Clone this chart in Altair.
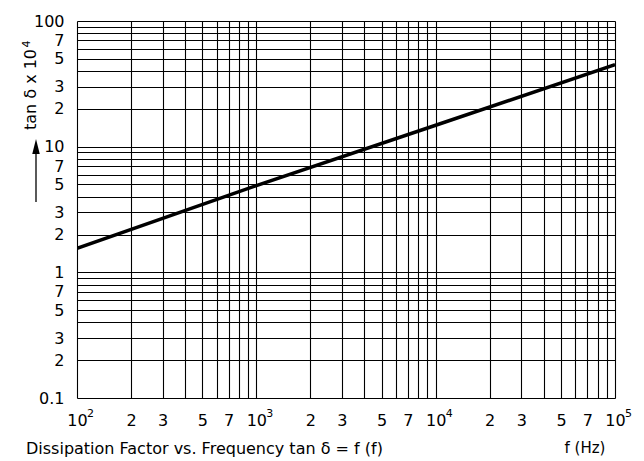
import altair as alt
import pandas as pd

# ---- data ----
freq = [1e2, 1e3, 1e4, 1e5]
tan_delta = [1.55, 4.9, 14.8, 45.0]

x_tick_values = [round(a * 10 ** e) for e in [2, 3, 4] for a in range(1, 10)] + [100000]
x_tick_labels = {100: "10", 200: "2", 300: "3", 500: "5", 700: "7",
                 1000: "10", 2000: "2", 3000: "3", 5000: "5", 7000: "7",
                 10000: "10", 20000: "2", 30000: "3", 50000: "5", 70000: "7",
                 100000: "10"}
decades = [100, 1000, 10000, 100000]
decade_exponents = ["2", "3", "4", "5"]

y_tick_values = [round(a * 10 ** e, 6) for e in [-1, 0, 1] for a in range(1, 10)] + [100]
y_tick_labels = {0.1: "0.1", 0.2: "2", 0.3: "3", 0.5: "5", 0.7: "7",
                 1: "1", 2: "2", 3: "3", 5: "5", 7: "7",
                 10: "10", 20: "2", 30: "3", 50: "5", 70: "7",
                 100: "100"}

y_title = "tan δ x 10"
y_title_exp = "4"
caption = "Dissipation Factor vs. Frequency tan δ = f (f)"
x_unit = "f (Hz)"

FONT = "DejaVu Sans"


def label_expr(mapping):
    parts = []
    for v, lab in mapping.items():
        parts.append(f"abs(datum.value - {v}) < {v} * 1e-6 ? '{lab}'")
    return " : ".join(parts) + " : ''"


df = pd.DataFrame({"f": freq, "tan": tan_delta})

W, H = 538, 377

xscale = alt.Scale(type="log", domain=[100, 100000], nice=False)

line = alt.Chart(df).mark_line(color="black", strokeWidth=3.5, clip=True).encode(
    x=alt.X("f:Q", scale=xscale,
            axis=alt.Axis(values=x_tick_values, labelExpr=label_expr(x_tick_labels),
                          title=None, grid=True, gridColor="black", gridWidth=1.1,
                          gridOpacity=1, ticks=False, domain=False,
                          labelFont=FONT, labelFontSize=16, labelColor="black",
                          labelPadding=14, labelFlush=False, labelOverlap=False)),
    y=alt.Y("tan:Q",
            scale=alt.Scale(type="log", domain=[0.1, 100], nice=False),
            axis=alt.Axis(values=y_tick_values, labelExpr=label_expr(y_tick_labels),
                          title=None, grid=True, gridColor="black", gridWidth=1.1,
                          gridOpacity=1, ticks=False, domain=False,
                          labelFont=FONT, labelFontSize=16, labelColor="black",
                          labelPadding=13, labelFlush=False, labelOverlap=False)),
)

exps = alt.Chart(pd.DataFrame({"f": decades, "e": decade_exponents})).mark_text(
    font=FONT, fontSize=11, color="black", align="left", baseline="middle", dx=10
).encode(x=alt.X("f:Q", scale=xscale), y=alt.value(H + 16), text="e:N")

ytitle = alt.Chart(pd.DataFrame({"t": [y_title]})).mark_text(
    font=FONT, fontSize=16, angle=270, color="black", align="center", baseline="middle"
).encode(x=alt.value(-46), y=alt.value(68.5), text="t:N")

ytitle_exp = alt.Chart(pd.DataFrame({"t": [y_title_exp]})).mark_text(
    font=FONT, fontSize=11, angle=270, color="black", align="center", baseline="middle"
).encode(x=alt.value(-50.5), y=alt.value(23), text="t:N")

arrow_line = alt.Chart(pd.DataFrame({"a": [0]})).mark_rule(color="black", strokeWidth=1.3).encode(
    x=alt.value(-41), y=alt.value(130), y2=alt.value(181)
)
arrow_head = alt.Chart(pd.DataFrame({"a": [0]})).mark_point(
    shape="M-0.5,1L0,-1L0.5,1Z", filled=True, color="black", opacity=1, size=225, strokeWidth=0
).encode(x=alt.value(-41), y=alt.value(125.5))

cap = alt.Chart(pd.DataFrame({"t": [caption]})).mark_text(
    font=FONT, fontSize=16, color="black", align="left", baseline="middle"
).encode(x=alt.value(-51), y=alt.value(428), text="t:N")

unit = alt.Chart(pd.DataFrame({"t": [x_unit]})).mark_text(
    font=FONT, fontSize=15, color="black", align="center", baseline="middle"
).encode(x=alt.value(508), y=alt.value(427), text="t:N")

chart = alt.layer(line, exps, ytitle, ytitle_exp, arrow_line, arrow_head, cap, unit).properties(
    width=W, height=H,
    autosize=alt.AutoSizeParams(type="none"),
    padding={"left": 69, "top": 13, "right": 21, "bottom": 63},
).configure_view(stroke="black", strokeWidth=1.5).configure(background="white")

chart.save("out.html", embed_options={"renderer": "svg", "actions": False})
